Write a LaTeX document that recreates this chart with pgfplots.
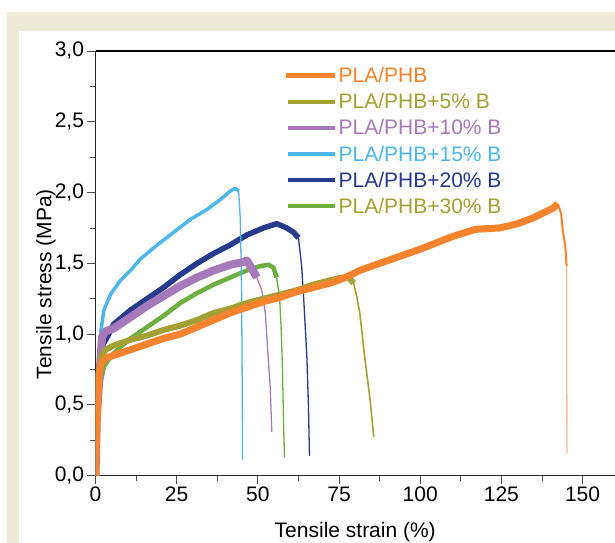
\documentclass[border=0pt]{standalone}
\usepackage{fontspec}
\setmainfont{Liberation Sans}
\usepackage{pgfplots}
\pgfplotsset{compat=1.18}
\definecolor{cOrange}{RGB}{247,131,47}
\definecolor{cOrangeL}{RGB}{250,188,145}
\definecolor{cOlive}{RGB}{163,160,52}
\definecolor{cPurple}{RGB}{166,121,186}
\definecolor{cCyan}{RGB}{78,182,232}
\definecolor{cNavy}{RGB}{38,58,142}
\definecolor{cGreen}{RGB}{108,174,64}
\definecolor{cFrame}{RGB}{237,235,216}
\newcommand{\fs}{\fontsize{21bp}{25bp}\selectfont}

\begin{document}
\begin{tikzpicture}
\useasboundingbox (0,0) rectangle (615bp,543bp);
\fill[cFrame] (7bp,0) rectangle (615bp,531bp);
\fill[white] (19bp,0) rectangle (615bp,512bp);
\begin{axis}[
  at={(95.5bp,67.3bp)}, anchor=south west,
  scale only axis, width=519.5bp, height=424.7bp,
  xmin=0, xmax=160, ymin=0, ymax=3,
  axis x line*=bottom, axis y line*=left,
  axis line style={-, black!85, line width=0.9bp},
  xtick={0,25,...,150}, ytick={0,0.5,...,3},
  minor x tick num=1, minor y tick num=1,
  tick align=outside, major tick length=8bp, minor tick length=5bp,
  tick style={black!70, line width=0.9bp},
  /pgf/number format/assume math mode=true,
  tick label style={font=\fs},
  yticklabel style={/pgf/number format/.cd, fixed, fixed zerofill, precision=1, use comma},
  xticklabel style={/pgf/number format/.cd, fixed, precision=0},
  every axis x label/.style={at={(axis description cs:0.5,-0.1455)}, anchor=base, font=\fs},
  every axis y label/.style={at={(axis description cs:-0.0953,0.451)}, rotate=90, anchor=center, font=\fs},
  xlabel={Tensile strain (\%)}, ylabel={Tensile stress (MPa)},
  legend style={draw=none, fill=none, at={(axis description cs:0.356,0.9686)},
    anchor=north west, font=\fs, row sep=7.4bp, nodes={inner sep=1bp}},
  legend cell align=left,
  legend image code/.code={\draw[#1] (0bp,0bp) -- (40bp,0bp);
    \path (0bp,0bp) -- (47bp,0bp);},
  legend image post style={line width=4bp},
  reverse legend,
]
% PLA/PHB+30% B
\addplot[cGreen, line width=4.5bp, line join=round] coordinates {
  (0,0) (0.5,0.27) (1.0,0.51) (1.5,0.65) (2.6,0.77) (4.6,0.84) (7.7,0.91)
  (10.8,0.97) (15.9,1.05) (21,1.13) (26.1,1.22) (31.3,1.29) (36.4,1.35)
  (41.5,1.40) (46.6,1.45) (50.7,1.48) (53.3,1.49) (54.8,1.47) (55.8,1.40)};
\addlegendentry{\textcolor{cOlive}{PLA/PHB+30\% B}}
\addplot[cGreen, line width=1.3bp, forget plot] coordinates {
  (55.8,1.40) (56.7,1.26) (57.2,1.03) (57.6,0.74) (57.9,0.39) (58.2,0.13)};
% PLA/PHB+20% B
\addplot[cNavy, line width=5.5bp, line join=round] coordinates {
  (0,0) (0.4,0.4) (1.0,0.72) (1.7,0.84) (2.4,0.93) (3.6,0.98) (5.6,1.07)
  (10.8,1.17) (15.9,1.25) (21,1.33) (26.1,1.42) (31.3,1.50) (36.4,1.57)
  (41.5,1.63) (46.6,1.70) (51.7,1.75) (55.8,1.78) (56.9,1.77) (58.9,1.75)
  (61,1.72) (62.5,1.68)};
\addlegendentry{\textcolor{cNavy}{PLA/PHB+20\% B}}
\addplot[cNavy, line width=1.3bp, forget plot] coordinates {
  (62.5,1.68) (63.5,1.48) (64.2,1.22) (65.1,0.84) (65.6,0.48) (65.9,0.14)};
% PLA/PHB+15% B
\addplot[cCyan, line width=3.5bp, line join=round] coordinates {
  (0,0) (0.5,0.51) (1.0,0.74) (1.7,1.03) (2.6,1.17) (4.6,1.28) (7.7,1.38)
  (10.8,1.45) (13.8,1.53) (19.0,1.63) (24.1,1.72) (29.2,1.81) (34.3,1.88)
  (38.4,1.95) (41.5,2.01) (43.0,2.03) (44.1,2.01)};
\addlegendentry{\textcolor{cCyan}{PLA/PHB+15\% B}}
\addplot[cCyan, line width=1.3bp, forget plot] coordinates {
  (44.1,2.01) (44.6,1.81) (45.0,1.30) (45.2,0.60) (45.3,0.11)};
% PLA/PHB+10% B
\addplot[cPurple, line width=8bp, line join=round] coordinates {
  (0,0) (0.4,0.4) (1.0,0.63) (2.0,0.98) (3.1,1.02) (5.6,1.04) (10.8,1.12)
  (15.9,1.20) (21,1.27) (26.1,1.34) (31.3,1.40) (36.4,1.45) (41.5,1.49)
  (45.6,1.51) (46.6,1.52) (48.2,1.46) (49.7,1.40)};
\addlegendentry{\textcolor{cPurple}{PLA/PHB+10\% B}}
\addplot[cPurple, line width=1.3bp, forget plot] coordinates {
  (49.7,1.40) (51.2,1.31) (52.3,1.15) (53.1,0.86) (53.8,0.63) (54.3,0.31)};
% PLA/PHB+5% B
\addplot[cOlive, line width=6bp, line join=round] coordinates {
  (0,0) (0.3,0.3) (1.0,0.72) (1.7,0.84) (3.1,0.89) (5.6,0.92) (10.8,0.96)
  (15.9,0.99) (21,1.03) (26.1,1.06) (31.3,1.10) (36.4,1.15) (41.5,1.18)
  (46.6,1.22) (51.7,1.25) (56.9,1.28) (62,1.31) (67.1,1.35) (72.2,1.38)
  (76,1.40) (78,1.40) (79.5,1.36)};
\addlegendentry{\textcolor{cOlive}{PLA/PHB+5\% B}}
\addplot[cOlive, line width=1.6bp, forget plot] coordinates {
  (79.5,1.36) (80.5,1.26) (81.4,1.15) (83,0.82) (84.5,0.55) (85.7,0.275)};
% PLA/PHB
\addplot[cOrange, line width=7bp, line join=round,
  legend image code/.code={\draw[cOrange] (-2bp,0bp) -- (42bp,0bp);
    \path (0bp,0bp) -- (47bp,0bp);},
  legend image post style={line width=5bp}] coordinates {
  (0,0) (0.3,0.27) (1.0,0.70) (1.7,0.79) (3.1,0.83) (5.6,0.85) (10.8,0.89)
  (15.9,0.93) (21,0.97) (26.1,1.00) (31.3,1.05) (36.4,1.10) (41.5,1.15)
  (46.6,1.19) (51.7,1.23) (56.9,1.26) (62,1.30) (67.1,1.33) (72.2,1.36)
  (77,1.40) (81.4,1.45) (90,1.52) (100,1.60) (110,1.69) (117,1.74)
  (124.5,1.75) (130,1.78) (134.7,1.82) (140.9,1.89) (142.4,1.92)};
\addlegendentry{\textcolor{cOrange}{PLA/PHB}}
\addplot[cOrange, line width=2bp, forget plot] coordinates {
  (142.4,1.92) (143.4,1.85) (143.9,1.735) (144.7,1.62) (145.1,1.48)};
\addplot[cOrangeL, line width=1.3bp, forget plot] coordinates {
  (145.1,1.48) (145.2,0.16)};
\draw[black, line width=1.2bp] (rel axis cs:0,1) -- (rel axis cs:1,1);
\end{axis}
\end{tikzpicture}
\end{document}
